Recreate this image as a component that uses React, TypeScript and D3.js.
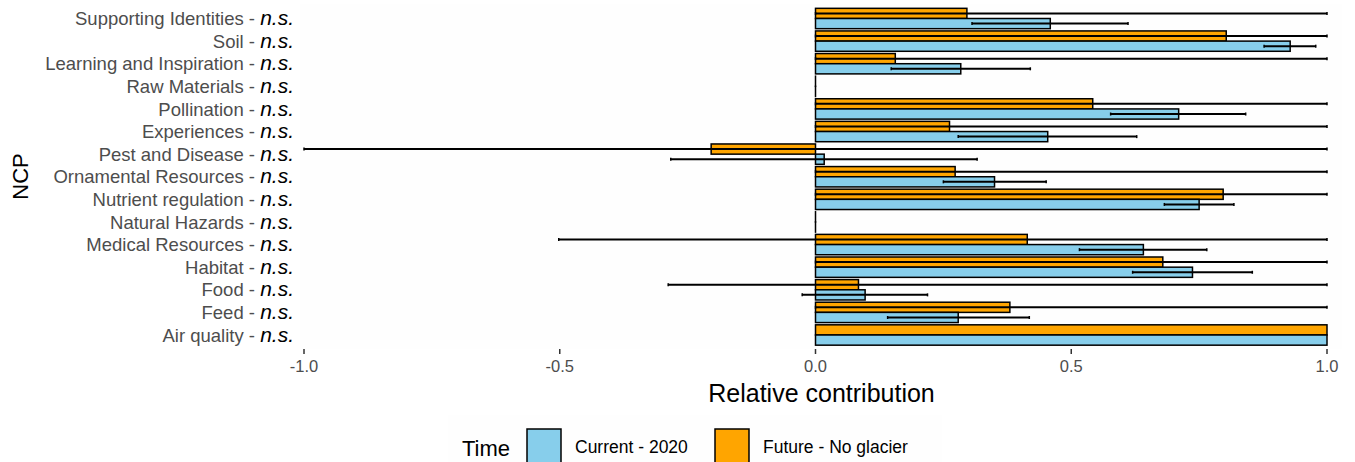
import React from 'react';
import * as d3 from 'd3';

// NCP categories, top to bottom as drawn
const categories = [
  'Supporting Identities',
  'Soil',
  'Learning and Inspiration',
  'Raw Materials',
  'Pollination',
  'Experiences',
  'Pest and Disease',
  'Ornamental Resources',
  'Nutrient regulation',
  'Natural Hazards',
  'Medical Resources',
  'Habitat',
  'Food',
  'Feed',
  'Air quality',
];

const currentValues = [0.459, 0.928, 0.284, 0, 0.71, 0.454, 0.017, 0.35, 0.75, 0, 0.641, 0.737, 0.097, 0.279, 1.0];
const currentLower = [0.306, 0.877, 0.148, 0, 0.577, 0.279, -0.283, 0.25, 0.682, 0, 0.516, 0.62, -0.026, 0.141, 1.0];
const currentUpper = [0.611, 0.978, 0.42, 0, 0.841, 0.628, 0.316, 0.451, 0.818, 0, 0.765, 0.854, 0.219, 0.418, 1.0];

const futureValues = [0.296, 0.803, 0.156, 0, 0.542, 0.262, -0.204, 0.273, 0.797, 0, 0.414, 0.679, 0.084, 0.38, 1.0];
const futureLower = [0, 0, 0, 0, 0, 0, -1.0, 0, 0, 0, -0.502, 0, -0.288, 0, 1.0];
const futureUpper = [1, 1, 1, 0, 1, 1, 1, 1, 1, 0, 1, 1, 1, 1, 1];

const significance = categories.map(() => 'n.s.');

const xTicks = [-1.0, -0.5, 0.0, 0.5, 1.0];

const series = [
  { key: 'Future - No glacier', color: '#FFA500', values: futureValues, lower: futureLower, upper: futureUpper, slot: 0 },
  { key: 'Current - 2020', color: '#87CEEB', values: currentValues, lower: currentLower, upper: currentUpper, slot: 1 },
];
const legendOrder = ['Current - 2020', 'Future - No glacier'];

const W = 1355;
const H = 462;
const font = '"Liberation Sans", Arial, sans-serif';

export default function App() {
  const panel = { left: 300, right: 1342, top: 4, bottom: 349 };

  const x = d3.scaleLinear().domain([-1, 1]).range([304, 1327]);
  const y = d3
    .scaleBand()
    .domain(categories)
    .range([7.2, 346.3])
    .paddingInner(0.1)
    .paddingOuter(0.05);
  const half = y.bandwidth() / 2;

  const colorOf = (k: string) => series.find(s => s.key === k)!.color;
  const fmt = (t: number) => t.toFixed(1);

  return (
    <svg
      width={W}
      height={H}
      style={{ position: 'absolute', left: 0, top: 0, display: 'block', fontFamily: font }}
    >
      <rect x={0} y={0} width={W} height={H} fill="#ffffff" />
      <rect
        x={panel.left}
        y={panel.top}
        width={panel.right - panel.left}
        height={panel.bottom - panel.top}
        fill="#fefefe"
      />

      {/* bars */}
      {series.map(s =>
        categories.map((c, i) => {
          const v = s.values[i];
          const x0 = x(Math.min(0, v));
          const x1 = x(Math.max(0, v));
          return (
            <rect
              key={s.key + c}
              x={x0}
              y={y(c)! + s.slot * half}
              width={Math.max(x1 - x0, 0.01)}
              height={half}
              fill={s.color}
              stroke="#000"
              strokeWidth={1.5}
            />
          );
        }),
      )}

      {/* error bars */}
      {series.map(s =>
        categories.map((c, i) => {
          const cy = y(c)! + s.slot * half + half / 2;
          const lo = x(s.lower[i]);
          const hi = x(s.upper[i]);
          if (hi - lo < 0.5) return null;
          return (
            <g key={'e' + s.key + c} stroke="#000" strokeWidth={2}>
              <line x1={lo} x2={hi} y1={cy} y2={cy} />
              <line x1={lo} x2={lo} y1={cy - 1.5} y2={cy + 1.5} strokeWidth={1.5} />
              <line x1={hi} x2={hi} y1={cy - 1.5} y2={cy + 1.5} strokeWidth={1.5} />
            </g>
          );
        }),
      )}

      {/* y labels with significance */}
      {categories.map((c, i) => (
        <text
          key={'l' + c}
          x={294}
          y={y(c)! + half}
          dy="0.36em"
          textAnchor="end"
          fontSize={18.5}
          fill="#4d4d4d"
        >
          {c}
          <tspan> - </tspan>
          <tspan fontStyle="italic" fill="#000" fontSize={21}>
            {significance[i]}
          </tspan>
        </text>
      ))}

      {/* x axis */}
      {xTicks.map(t => (
        <g key={'t' + t}>
          <line x1={x(t)} x2={x(t)} y1={349} y2={354} stroke="#333" strokeWidth={1.5} />
          <text x={x(t)} y={372} textAnchor="middle" fontSize={16.5} fill="#4d4d4d">
            {fmt(t)}
          </text>
        </g>
      ))}

      <text x={x(0) + 6} y={402} textAnchor="middle" fontSize={25} fill="#000">
        Relative contribution
      </text>
      <text
        transform={`translate(28, ${(panel.top + panel.bottom) / 2}) rotate(-90)`}
        textAnchor="middle"
        fontSize={22}
        fill="#000"
      >
        NCP
      </text>

      {/* legend */}
      <rect x={448} y={415} width={494} height={60} fill="#fefefe" />
      <text x={462} y={456} fontSize={22} fill="#000">
        Time
      </text>
      {legendOrder.map((k, i) => {
        const kx = i === 0 ? 527 : 715;
        return (
          <g key={'lg' + k}>
            <rect x={kx} y={429} width={34} height={36} fill={colorOf(k)} stroke="#000" strokeWidth={1.5} />
            <text x={kx + 48} y={453} fontSize={17.5} fill="#000">
              {k}
            </text>
          </g>
        );
      })}
    </svg>
  );
}
